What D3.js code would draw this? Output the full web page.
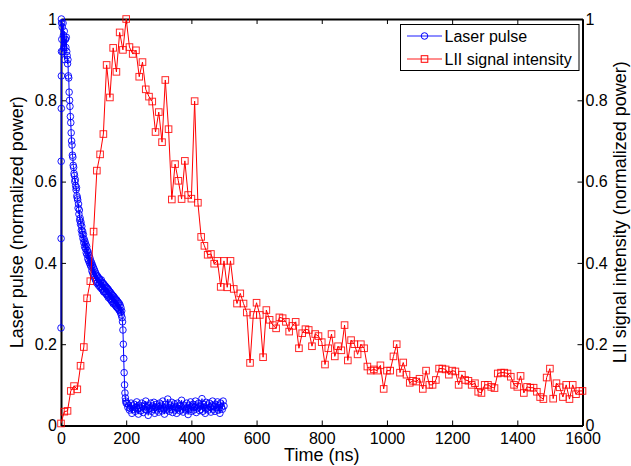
<!DOCTYPE html>
<html>
<head>
<meta charset="utf-8">
<script src="https://cdn.jsdelivr.net/npm/d3@7"></script>
<style>
  body { margin: 0; background: #fff; }
  svg { font-family: 'Liberation Sans', Arial, sans-serif; }
  .axis text { font-size: 16px; fill: #000; }
  .axis path, .axis line { stroke: #000; }
  .axis-label { font-size: 18px; fill: #000; }
  .legend text { font-size: 16px; }
</style>
</head>
<body>
<svg id="chart" width="631" height="466"></svg>
<script>
// tick values and labels
const xTicks = [0, 200, 400, 600, 800, 1000, 1200, 1400, 1600];
const xTickLabels = ['0', '200', '400', '600', '800', '1000', '1200', '1400', '1600'];
const yTicks = [0, 0.2, 0.4, 0.6, 0.8, 1];
const yTickLabels = ['0', '0.2', '0.4', '0.6', '0.8', '1'];

// laser pulse: fast rise at t=0
const laserRiseTime = [0, 0.3, 0.6, 0.9, 1.2, 1.5, 1.8];
const laserRise = [0.24, 0.46, 0.65, 0.78, 0.86, 0.92, 0.99];
// decay, sampled every 1.25 ns up to 200 ns
const laserDecayStep = 1.25;
const laserDecay = [
  1.0, 0.95, 0.98, 0.92, 0.99, 0.96, 0.93, 0.97, 0.9, 0.95,
  0.95, 0.93, 0.955, 0.92, 0.91, 0.89, 0.9, 0.86, 0.855, 0.82,
  0.8, 0.785, 0.76, 0.745, 0.72, 0.7, 0.69, 0.665, 0.66, 0.64,
  0.635, 0.62, 0.615, 0.6, 0.605, 0.59, 0.58, 0.585, 0.565, 0.56,
  0.555, 0.535, 0.545, 0.52, 0.53, 0.505, 0.51, 0.495, 0.5, 0.48,
  0.49, 0.47, 0.478, 0.46, 0.47, 0.45, 0.458, 0.44, 0.452, 0.435,
  0.445, 0.425, 0.44, 0.42, 0.43, 0.41, 0.425, 0.405, 0.418, 0.4,
  0.412, 0.395, 0.405, 0.39, 0.4, 0.38, 0.395, 0.375, 0.39, 0.37,
  0.385, 0.365, 0.38, 0.36, 0.375, 0.355, 0.37, 0.35, 0.368, 0.352,
  0.365, 0.345, 0.362, 0.348, 0.36, 0.34, 0.355, 0.342, 0.358, 0.336,
  0.352, 0.335, 0.35, 0.33, 0.348, 0.328, 0.345, 0.33, 0.343, 0.325,
  0.34, 0.322, 0.338, 0.32, 0.336, 0.315, 0.333, 0.318, 0.33, 0.312,
  0.328, 0.31, 0.325, 0.306, 0.322, 0.305, 0.32, 0.3, 0.318, 0.302,
  0.315, 0.298, 0.312, 0.295, 0.31, 0.292, 0.308, 0.29, 0.305, 0.288,
  0.302, 0.285, 0.3, 0.282, 0.296, 0.278, 0.29, 0.272, 0.282, 0.265,
  0.255, 0.235, 0.2, 0.165, 0.13, 0.1, 0.08, 0.068, 0.06, 0.055
];
// tail after the pulse, every 2.5 ns from 202.5 to 500 ns
const laserTailStart = 202.5;
const laserTailStep = 2.5;
const laserTail = [
  0.055, 0.045, 0.05, 0.038, 0.042, 0.055, 0.03, 0.048, 0.04, 0.052,
  0.035, 0.045, 0.058, 0.04, 0.028, 0.05, 0.043, 0.036, 0.055, 0.047,
  0.032, 0.05, 0.04, 0.06, 0.038, 0.045, 0.025, 0.05, 0.042, 0.055,
  0.035, 0.048, 0.04, 0.057, 0.03, 0.045, 0.052, 0.038, 0.047, 0.033,
  0.055, 0.042, 0.05, 0.036, 0.06, 0.04, 0.028, 0.052, 0.045, 0.038,
  0.065, 0.043, 0.035, 0.05, 0.04, 0.057, 0.032, 0.047, 0.053, 0.038,
  0.045, 0.03, 0.055, 0.042, 0.05, 0.036, 0.048, 0.062, 0.04, 0.033,
  0.05, 0.045, 0.038, 0.055, 0.042, 0.027, 0.05, 0.04, 0.058, 0.035,
  0.047, 0.052, 0.038, 0.045, 0.06, 0.032, 0.05, 0.043, 0.055, 0.037,
  0.048, 0.04, 0.066, 0.035, 0.052, 0.045, 0.03, 0.057, 0.042, 0.05,
  0.038, 0.055, 0.045, 0.033, 0.05, 0.06, 0.04, 0.047, 0.035, 0.052,
  0.044, 0.058, 0.038, 0.05, 0.03, 0.055, 0.045, 0.04, 0.06, 0.048
];

// LII signal, one sample every liiStep ns from t=0
const liiStep = 10;
const liiSignal = [
  0.005, 0.034, 0.036, 0.085, 0.097, 0.089, 0.147, 0.193, 0.313, 0.355,
  0.477, 0.627, 0.667, 0.717, 0.887, 0.807, 0.929, 0.870, 0.967, 0.924,
  1.0, 0.931, 0.914, 0.923, 0.858, 0.894, 0.827, 0.809, 0.797, 0.722,
  0.771, 0.697, 0.85, 0.729, 0.556, 0.643, 0.602, 0.557, 0.651, 0.567,
  0.558, 0.798, 0.548, 0.464, 0.442, 0.42, 0.422, 0.398, 0.405, 0.341,
  0.405, 0.34, 0.405, 0.336, 0.30, 0.325, 0.30, 0.278, 0.154, 0.272,
  0.302, 0.272, 0.168, 0.284, 0.26, 0.247, 0.239, 0.266, 0.264, 0.255,
  0.231, 0.245, 0.255, 0.19, 0.227, 0.237, 0.235, 0.195, 0.225, 0.22,
  0.205, 0.15, 0.19, 0.225, 0.17, 0.195, 0.185, 0.247, 0.16, 0.21,
  0.2, 0.175, 0.2, 0.19, 0.145, 0.135, 0.138, 0.135, 0.148, 0.09,
  0.135, 0.135, 0.17, 0.2, 0.13, 0.155, 0.125, 0.105, 0.11, 0.108,
  0.115, 0.09, 0.135, 0.1, 0.1, 0.112, 0.14, 0.14, 0.138, 0.125,
  0.135, 0.133, 0.1, 0.125, 0.112, 0.11, 0.1, 0.104, 0.083, 0.08,
  0.1, 0.1, 0.095, 0.092, 0.128, 0.13, 0.13, 0.128, 0.12, 0.1,
  0.095, 0.122, 0.08, 0.095, 0.093, 0.093, 0.083, 0.07, 0.065, 0.118,
  0.14, 0.066, 0.104, 0.094, 0.07, 0.1, 0.065, 0.1, 0.077, 0.085, 0.085
];

const laserData = laserRise.map((p, i) => [laserRiseTime[i], p])
  .concat(laserDecay.map((p, i) => [laserDecayStep * (i + 1), p]))
  .concat(laserTail.map((p, i) => [laserTailStart + laserTailStep * i, p]));
const liiData = liiSignal.map((v, i) => [liiStep * i, v]);

const svg = d3.select('#chart');
const margin = { top: 19, right: 48.5, bottom: 40.5, left: 61 };
const width = +svg.attr('width');
const height = +svg.attr('height');
const innerWidth = width - margin.left - margin.right;
const innerHeight = height - margin.top - margin.bottom;

const chart = svg.append('g')
  .attr('transform', `translate(${margin.left},${margin.top})`);

// scales
const xScale = d3.scaleLinear().domain([0, 1600]).range([0, innerWidth]);
const yLeft = d3.scaleLinear().domain([0, 1]).range([innerHeight, 0]);
const yRight = d3.scaleLinear().domain([0, 1]).range([innerHeight, 0]);

// axes, ticks pointing inward like matlab
const xAxis = d3.axisBottom(xScale).tickValues(xTicks)
  .tickFormat((d, i) => xTickLabels[i]).tickSize(-5).tickSizeOuter(0).tickPadding(7.5);
const xAxisTop = d3.axisTop(xScale).tickValues(xTicks)
  .tickFormat('').tickSize(-5).tickSizeOuter(0);
const yAxisLeft = d3.axisLeft(yLeft).tickValues(yTicks)
  .tickFormat((d, i) => yTickLabels[i]).tickSize(-5).tickSizeOuter(0).tickPadding(4);
const yAxisRight = d3.axisRight(yRight).tickValues(yTicks)
  .tickFormat((d, i) => yTickLabels[i]).tickSize(-5).tickSizeOuter(0).tickPadding(3);

chart.append('g').attr('class', 'axis')
  .attr('transform', `translate(0,${innerHeight})`)
  .call(xAxis);
chart.append('g').attr('class', 'axis')
  .call(xAxisTop);
chart.append('g').attr('class', 'axis')
  .call(yAxisLeft);
chart.append('g').attr('class', 'axis')
  .attr('transform', `translate(${innerWidth},0)`)
  .call(yAxisRight);

chart.selectAll('.axis .domain').attr('stroke-width', 2);
chart.selectAll('.axis text').attr('font-family', null);

// laser pulse (blue, circles)
const laserLine = d3.line()
  .x(d => xScale(d[0]))
  .y(d => yLeft(d[1]));

chart.append('path')
  .attr('d', laserLine(laserData))
  .attr('fill', 'none')
  .attr('stroke', '#0000ff')
  .attr('stroke-width', 1);

chart.append('g').selectAll('circle')
  .data(laserData)
  .join('circle')
    .attr('cx', d => xScale(d[0]))
    .attr('cy', d => yLeft(d[1]))
    .attr('r', 3.3)
    .attr('fill', 'none')
    .attr('stroke', '#0000ff')
    .attr('stroke-opacity', 0.9)
    .attr('stroke-width', 1);

// LII signal (red, squares)
const liiLine = d3.line()
  .x(d => xScale(d[0]))
  .y(d => yRight(d[1]));

chart.append('path')
  .attr('d', liiLine(liiData))
  .attr('fill', 'none')
  .attr('stroke', '#ff0000')
  .attr('stroke-width', 1);

const sq = 6.6;
chart.append('g').selectAll('rect')
  .data(liiData)
  .join('rect')
    .attr('x', d => xScale(d[0]) - sq / 2)
    .attr('y', d => yRight(d[1]) - sq / 2)
    .attr('width', sq)
    .attr('height', sq)
    .attr('fill', 'none')
    .attr('stroke', '#ff0000')
    .attr('stroke-opacity', 0.85)
    .attr('stroke-width', 1);

// axis labels
svg.append('text')
  .attr('class', 'axis-label')
  .attr('x', margin.left + innerWidth / 2)
  .attr('y', 461)
  .attr('text-anchor', 'middle')
  .text('Time (ns)');

svg.append('text')
  .attr('class', 'axis-label')
  .attr('transform', `translate(23,${margin.top + innerHeight / 2}) rotate(-90)`)
  .attr('text-anchor', 'middle')
  .text('Laser pulse (normalized power)');

svg.append('text')
  .attr('class', 'axis-label')
  .attr('transform', `translate(626,${margin.top + innerHeight / 2 - 10}) rotate(-90)`)
  .attr('text-anchor', 'middle')
  .text('LII signal intensity (normalized power)');

// legend
const legend = svg.append('g').attr('class', 'legend');
legend.append('rect')
  .attr('x', 400.5)
  .attr('y', 24.5)
  .attr('width', 178.5)
  .attr('height', 46)
  .attr('fill', '#fff')
  .attr('stroke', '#000')
  .attr('stroke-width', 1);

const legendItems = [
  { label: 'Laser pulse', color: '#0000ff', shape: 'circle', y: 36 },
  { label: 'LII signal intensity', color: '#ff0000', shape: 'square', y: 59 }
];

legendItems.forEach(item => {
  legend.append('line')
    .attr('x1', 407).attr('x2', 442)
    .attr('y1', item.y).attr('y2', item.y)
    .attr('stroke', item.color)
    .attr('stroke-opacity', 0.6)
    .attr('stroke-width', 1.5);
  if (item.shape === 'circle') {
    legend.append('circle')
      .attr('cx', 424.5).attr('cy', item.y).attr('r', 3.3)
      .attr('fill', 'none').attr('stroke', item.color);
  } else {
    legend.append('rect')
      .attr('x', 424.5 - sq / 2).attr('y', item.y - sq / 2)
      .attr('width', sq).attr('height', sq)
      .attr('fill', 'none').attr('stroke', item.color);
  }
  legend.append('text')
    .attr('x', 444.5)
    .attr('y', item.y)
    .attr('dy', '0.35em')
    .text(item.label);
});
</script>
</body>
</html>
